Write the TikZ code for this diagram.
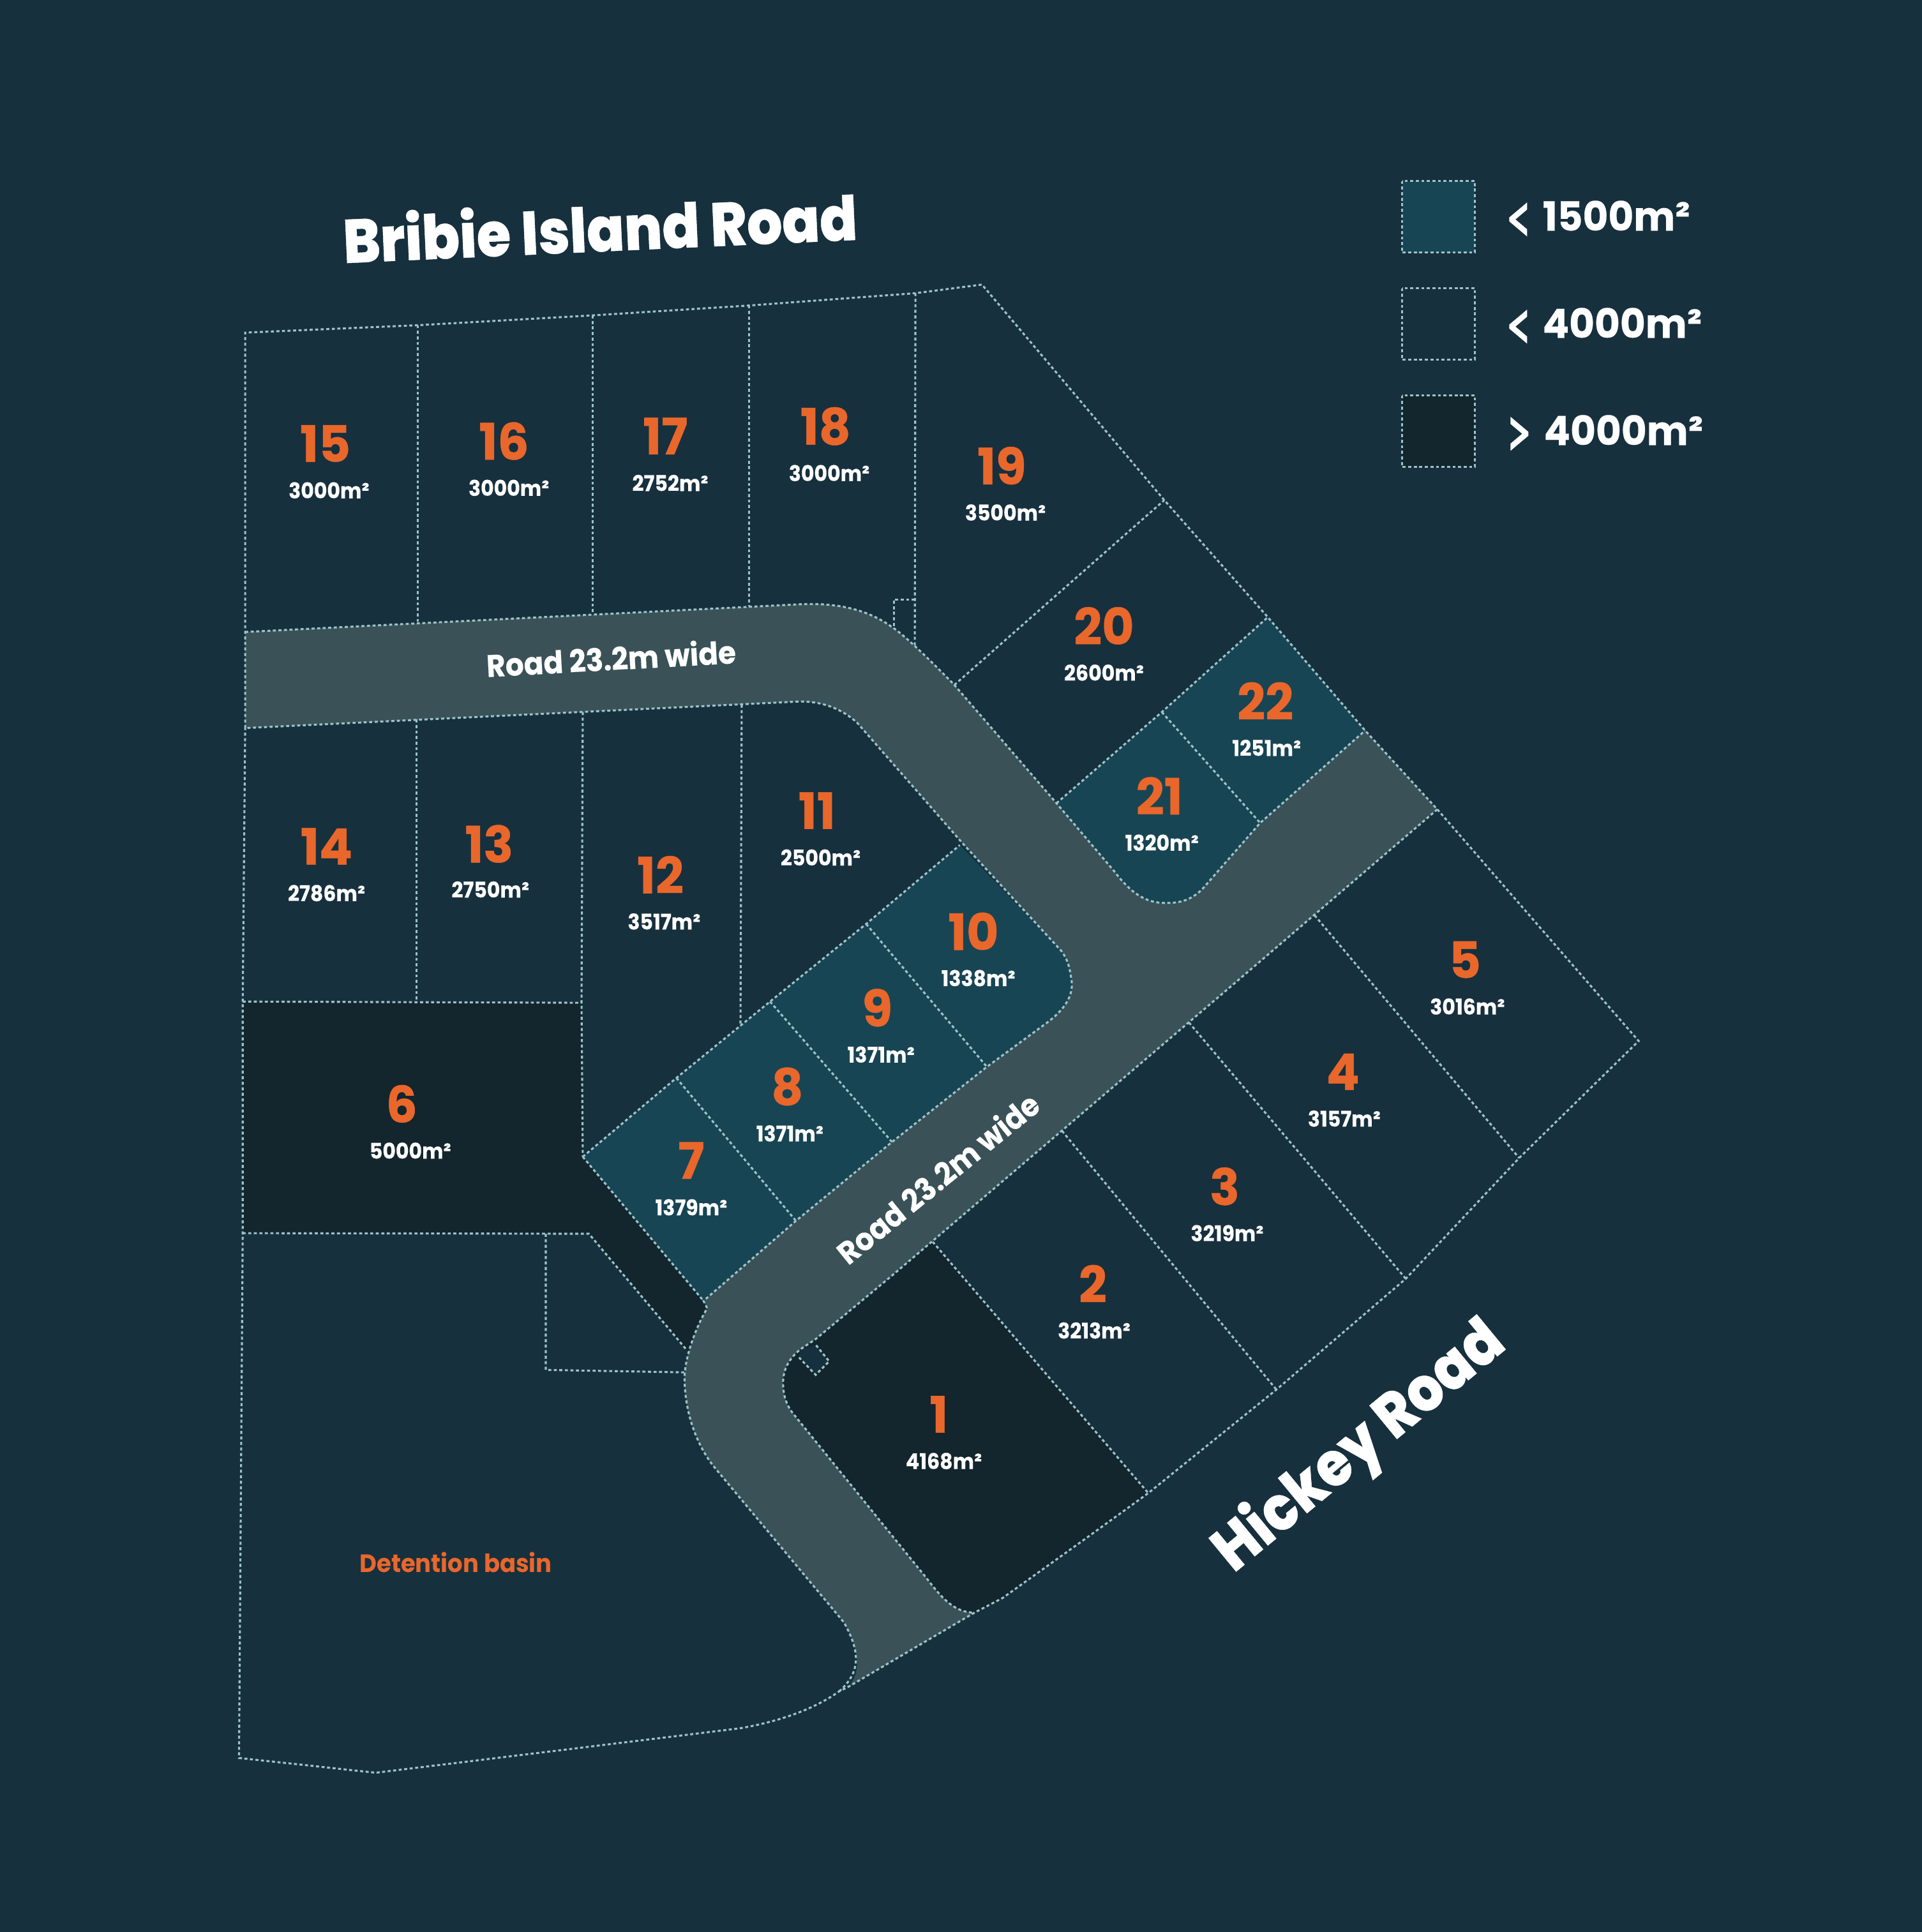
\documentclass[tikz,border=0pt]{standalone}
\usepackage{fontspec}
\setmainfont{TeX Gyre Heros}[BoldFont=* Bold]
\newfontfamily\numfont{Poppins Bold}[FakeStretch=0.98,FakeBold=0.6]
\newfontfamily\areafont{Poppins Bold}[FakeStretch=0.93,FakeBold=0.3]
\newfontfamily\basinfont{Poppins Bold}[FakeStretch=0.94]
\newfontfamily\legfont{Poppins Bold}[FakeStretch=0.97,FakeBold=0.4]
\newfontfamily\ltfont{TeX Gyre Heros Bold}[FakeBold=2.2]
\newfontfamily\headfont{Poppins ExtraBold}[FakeStretch=0.9,FakeBold=0.5]
\newfontfamily\roadfont{Poppins Bold}[FakeStretch=0.93,FakeBold=0.3]
\newcommand{\lgsym}[1]{\makebox[42.6pt][l]{\ltfont\fontsize{52}{52}\selectfont #1}}
\definecolor{bgc}{HTML}{17303E}
\definecolor{lightlot}{HTML}{184554}
\definecolor{darklot}{HTML}{13252D}
\definecolor{roadc}{HTML}{3A5257}
\definecolor{linec}{HTML}{9CC4C8}
\definecolor{numc}{HTML}{E9672B}
\tikzset{
  lotline/.style={draw=linec,line width=2.3pt,dash pattern=on 3.5pt off 2.9pt},
  lightfill/.style={fill=lightlot},
  darkfill/.style={fill=darklot},
  num/.style={text=numc,font=\numfont\fontsize{58}{58}\selectfont,inner sep=0pt},
  area/.style={text=white,font=\areafont\fontsize{25}{25}\selectfont,inner sep=0pt},
  legendtxt/.style={text=white,font=\legfont\fontsize{46.5}{46.5}\selectfont,inner sep=0pt,anchor=west},
  head/.style={text=white,font=\headfont\fontsize{71}{71}\selectfont,inner sep=0pt},
  roadtxt/.style={text=white,font=\roadfont\fontsize{36}{36}\selectfont,inner sep=0pt},
}
\begin{document}
\begin{tikzpicture}[x=0.05cm,y=-0.05cm]
\fill[bgc] (0,0) rectangle (1560,1568.29);
\useasboundingbox (0,0) rectangle (1560,1568.29);

% dark lots
\path[darkfill] (197,813) -- (472,814) -- (473,939) -- (571,1056) -- (574,1062) -- (559,1097) -- (557.5,1096) -- (478,1001.5) -- (197,1001) -- cycle;
\path[darkfill] (757,1008) -- (932,1212) -- (881,1249) -- (814,1297) -- (791,1309) .. controls (775,1309) and (765,1298) .. (752,1281) -- (645,1149) .. controls (638,1141) and (635.6,1132) .. (635.6,1122.6) .. controls (635.6,1112) and (640,1103) .. (650,1095) -- (725,1034.6) -- cycle;
\path[fill=bgc] (662.4,1092) -- (673,1105) -- (662,1116) -- (648.6,1102) -- (650,1095) -- cycle;

% light lots
\path[lightfill] (473,939) -- (549,875) -- (625,813) -- (703,750) -- (779,686) -- (861.5,772) .. controls (866,778) and (868,784) .. (869.4,794) .. controls (872,806) and (866,818) .. (850,830) -- (801,866) -- (724,927) -- (646,991) -- (571,1056) -- cycle;
\path[lightfill] (857.5,652) -- (943,578) -- (1029,501) -- (1108,593) -- (1022.8,668) -- (975.6,722) .. controls (966,731) and (958,733) .. (945.8,733) .. controls (930,733) and (918,725) .. (905,708) -- cycle;

% road
\path[fill=roadc] (199,513) -- (647.7,490.6) .. controls (678,489) and (703,494) .. (723.7,508.8) .. controls (735,516) and (760,541) .. (774.6,556) -- (857.5,652) -- (905,708) .. controls (918,725) and (930,733) .. (945.8,733) .. controls (958,733) and (966,731) .. (975.6,722) -- (1022.8,668) -- (1108,593) -- (1166.6,657) -- (998,801.6) -- (725,1034.6) -- (662,1087) -- (650,1095) .. controls (640,1103) and (635.6,1112) .. (635.6,1122.6) .. controls (635.6,1132) and (638,1141) .. (645,1149) -- (752,1281) .. controls (765,1298) and (775,1309) .. (791,1309) -- (689,1369) .. controls (698,1358) and (699,1342) .. (685,1317) -- (579,1190) .. controls (565,1172) and (555.6,1146) .. (555.6,1118) .. controls (556,1100) and (566,1075) .. (574,1062) -- (571,1056) -- (646,991) -- (724,927) -- (801,866) -- (850,830) .. controls (866,818) and (872,806) .. (869.4,794) .. controls (868,784) and (866,778) .. (861.5,772) -- (780.8,684) -- (696,587) .. controls (682,574) and (665,569) .. (647.7,569.5) -- (199,591) -- cycle;

% road outline
\draw[lotline] (199,513) -- (647.7,490.6) .. controls (678,489) and (703,494) .. (723.7,508.8) .. controls (735,516) and (760,541) .. (774.6,556) -- (857.5,652) -- (905,708) .. controls (918,725) and (930,733) .. (945.8,733) .. controls (958,733) and (966,731) .. (975.6,722) -- (1022.8,668) -- (1108,593);
\draw[lotline] (1166.6,657) -- (998,801.6) -- (725,1034.6) -- (662,1087) -- (650,1095) .. controls (640,1103) and (635.6,1112) .. (635.6,1122.6) .. controls (635.6,1132) and (638,1141) .. (645,1149) -- (752,1281) .. controls (765,1298) and (775,1309) .. (791,1309);
\draw[lotline] (681,1373) .. controls (698,1358) and (699,1342) .. (685,1317) -- (579,1190) .. controls (565,1172) and (555.6,1146) .. (555.6,1118) .. controls (556,1100) and (566,1075) .. (574,1062) -- (571,1056) -- (646,991) -- (724,927) -- (801,866) -- (850,830) .. controls (866,818) and (872,806) .. (869.4,794) .. controls (868,784) and (866,778) .. (861.5,772) -- (780.8,684) -- (696,587) .. controls (682,574) and (665,569) .. (647.7,569.5) -- (199,591);

% outer boundary
\draw[lotline] (199,591) -- (199,270) -- (339,264) -- (481,256) -- (608,248) -- (743,238) -- (797,231) -- (945,406) -- (1029,501) -- (1108,593) -- (1166.6,657) -- (1330,845) -- (1233,940) -- (1141,1038) -- (1036,1128) -- (932,1212) -- (881,1249) -- (814,1297) -- (791,1309) -- (689,1369) -- (681,1373) .. controls (660,1388) and (630,1398) .. (600,1403) -- (305,1439) -- (194,1427) -- (197,1001) -- (197,813) -- (199,591);

% dividers
\draw[lotline] (339,264) -- (339,506);
\draw[lotline] (481,256) -- (481,498);
\draw[lotline] (608,248) -- (608,492);
\draw[lotline] (743,238) -- (742.5,524);
\draw[lotline] (742.5,486.7) -- (725.4,486.7) -- (725.4,508);
\draw[lotline] (774.6,556) -- (945,406);
\draw[lotline] (857.5,652) -- (943,578) -- (1029,501);
\draw[lotline] (943,578) -- (1022.8,668);
\draw[lotline] (338,584) -- (338,813);
\draw[lotline] (473,578) -- (472,814) -- (473,939);
\draw[lotline] (602,572) -- (601,833);
\draw[lotline] (197,813) -- (472,814);
\draw[lotline] (473,939) -- (549,875) -- (625,813) -- (703,750) -- (779,686);
\draw[lotline] (549,875) -- (646,991);
\draw[lotline] (625,813) -- (724,927);
\draw[lotline] (703,750) -- (801,866);
\draw[lotline] (473,939) -- (571,1056);
\draw[lotline] (197,1001) -- (478,1001.5) -- (557.5,1096);
\draw[lotline] (443,1001.5) -- (443,1112) -- (555.6,1114);
\draw[lotline] (1067,743) -- (1233,940);
\draw[lotline] (965,830) -- (1141,1038);
\draw[lotline] (862,918) -- (1036,1128);
\draw[lotline] (757,1008) -- (932,1212);
\draw[lotline] (662.4,1092) -- (673,1105) -- (662,1116) -- (648.6,1102);

% legend
\path[lightfill,lotline] (1138,147) rectangle (1197,205);
\path[lotline] (1138,234) rectangle (1197,292);
\path[darkfill,lotline] (1138,321) rectangle (1197,379);
\node[legendtxt] (lga) at (1222,177) {\lgsym{<}1500m²};
\node[legendtxt] (lgb) at (1222,264) {\lgsym{<}4000m²};
\node[legendtxt] (lgc) at (1223,351) {\lgsym{>}4000m²};

% road names
\node[head,rotate=2.6] (bribie) at (487,184) {Bribie Island Road};
\node[head,rotate=39.5] (hickey) at (1104,1175) {Hickey Road};
\node[roadtxt,rotate=3.2] (roada) at (496,534) {Road 23.2m wide};
\node[roadtxt,rotate=39] (roadb) at (761,956) {Road 23.2m wide};

% lot labels
\node[num] (n15) at (264,360) {15}; \node[area] (a15) at (267,398) {3000m²};
\node[num] (n16) at (409,358) {16}; \node[area] (a16) at (413,396) {3000m²};
\node[num] (n17) at (540,354) {17}; \node[area] (a17) at (544,392) {2752m²};
\node[num] (n18) at (670,346) {18}; \node[area] (a18) at (673,384) {3000m²};
\node[num] (n19) at (813,378) {19}; \node[area] (a19) at (816,416) {3500m²};
\node[num] (n20) at (896,508) {20}; \node[area] (a20) at (896,546) {2600m²};
\node[num] (n22) at (1027,569) {22}; \node[area] (a22) at (1028,607) {1251m²};
\node[num] (n21) at (941,646) {21}; \node[area] (a21) at (943,684) {1320m²};
\node[num] (n11) at (663,658) {11}; \node[area] (a11) at (666,696) {2500m²};
\node[num] (n14) at (265,687) {14}; \node[area] (a14) at (265,725) {2786m²};
\node[num] (n13) at (397,685) {13}; \node[area] (a13) at (398,722) {2750m²};
\node[num] (n12) at (536,710) {12}; \node[area] (a12) at (539,748) {3517m²};
\node[num] (n10) at (790,756) {10}; \node[area] (a10) at (794,794) {1338m²};
\node[num] (n9) at (712,818) {9}; \node[area] (a9) at (715,856) {1371m²};
\node[num] (n8) at (639,882) {8}; \node[area] (a8) at (641,920) {1371m²};
\node[num] (n7) at (561,942) {7}; \node[area] (a7) at (561,980) {1379m²};
\node[num] (n6) at (326,896) {6}; \node[area] (a6) at (333,934) {5000m²};
\node[num] (n5) at (1189,779) {5}; \node[area] (a5) at (1191,817) {3016m²};
\node[num] (n4) at (1090,870) {4}; \node[area] (a4) at (1091,908) {3157m²};
\node[num] (n3) at (994,963) {3}; \node[area] (a3) at (996,1001) {3219m²};
\node[num] (n2) at (887,1042) {2}; \node[area] (a2) at (888,1080) {3213m²};
\node[num] (n1) at (762,1148) {1}; \node[area] (a1) at (766,1186) {4168m²};
\node[text=numc,font=\basinfont\fontsize{29}{29}\selectfont,inner sep=0pt] (basin) at (370,1268) {Detention basin};
\end{tikzpicture}
\end{document}
